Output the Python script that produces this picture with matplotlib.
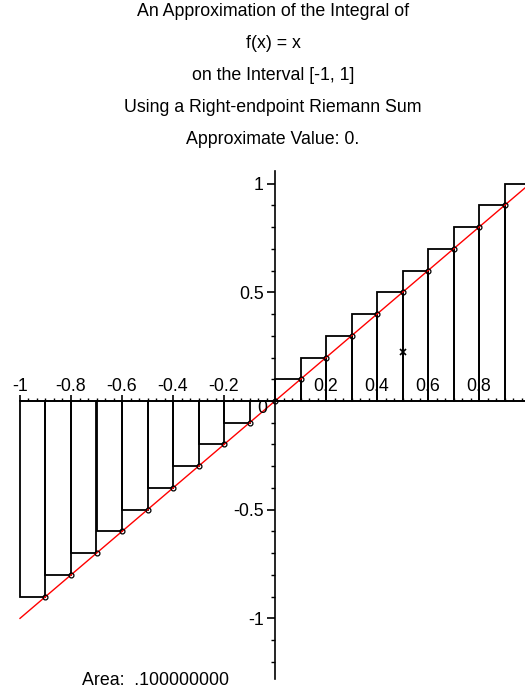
import matplotlib
matplotlib.use("Agg")
import matplotlib.pyplot as plt
from matplotlib.ticker import FixedLocator, FixedFormatter

plt.rcParams["font.family"] = ["Liberation Sans", "DejaVu Sans"]
plt.rcParams["axes.unicode_minus"] = False

# Partition of [-1, 1] into 20 subintervals
left_edges = [-1.0, -0.9, -0.8, -0.7, -0.6, -0.5, -0.4, -0.3, -0.2, -0.1,
              0.0, 0.1, 0.2, 0.3, 0.4, 0.5, 0.6, 0.7, 0.8, 0.9]
right_edges = [-0.9, -0.8, -0.7, -0.6, -0.5, -0.4, -0.3, -0.2, -0.1, 0.0,
               0.1, 0.2, 0.3, 0.4, 0.5, 0.6, 0.7, 0.8, 0.9, 1.0]
# f evaluated at the right endpoints, f(x) = x
heights = [-0.9, -0.8, -0.7, -0.6, -0.5, -0.4, -0.3, -0.2, -0.1, 0.0,
           0.1, 0.2, 0.3, 0.4, 0.5, 0.6, 0.7, 0.8, 0.9, 1.0]
bar_width = 0.1

# Curve f(x) = x
curve_x = [-1.0, 1.0]
curve_y = [-1.0, 1.0]

# Stray point marker
star_x = [0.5]
star_y = [0.225]

x_ticks = [-1.0, -0.8, -0.6, -0.4, -0.2, 0.2, 0.4, 0.6, 0.8]
x_tick_labels = ["-1", "-0.8", "-0.6", "-0.4", "-0.2", "0.2", "0.4", "0.6", "0.8"]
x_minor = [-1.0 + k / 30 for k in range(61)]
y_ticks = [-1.0, -0.5, 0.5, 1.0]
y_tick_labels = ["-1", "-0.5", "0.5", "1"]
y_minor = [-1.2 + k * 0.1 for k in range(23)]

title_lines = [
    "An Approximation of the Integral of",
    "f(x) = x",
    "on the Interval [-1, 1]",
    "Using a Right-endpoint Riemann Sum",
    "Approximate Value: 0.",
]
area_label = "Area:  .100000000"

W, H = 525, 692
fig = plt.figure(figsize=(W / 100, H / 100), dpi=100)
ax = fig.add_axes([0, 0, 1, 1])

# pixel mapping of the plot region
x0_px, x_unit = 275.0, 255.0
y0_px, y_unit = 401.0, 217.35
ax.set_xlim(-x0_px / x_unit, (W - x0_px) / x_unit)
ax.set_ylim(-(H - y0_px) / y_unit, y0_px / y_unit)

FS = 12.8

# Riemann rectangles
ax.bar(left_edges, heights, width=bar_width, align="edge", fill=False,
       edgecolor="black", linewidth=1.3, zorder=2)

# function graph
ax.plot(curve_x, curve_y, color="red", linewidth=1.0, zorder=3)

# sample points
ax.plot(right_edges, heights, linestyle="none", marker="o", markersize=3.5,
        markerfacecolor="none", markeredgecolor="black", markeredgewidth=0.9,
        zorder=4)
ax.plot(star_x, star_y, linestyle="none", marker="x", markersize=4.5,
        color="black", markeredgewidth=1.2, zorder=4)

# axes through the origin
for s in ["right", "bottom"]:
    ax.spines[s].set_visible(False)
ax.spines["top"].set_position(("data", 0))
ax.spines["left"].set_position(("data", 0))
ax.spines["top"].set_bounds(-1.0, 1.0)
ax.spines["left"].set_bounds(-1.28, 1.06)
for s in ["top", "left"]:
    ax.spines[s].set_linewidth(1.2)
    ax.spines[s].set_zorder(5)

ax.xaxis.set_ticks_position("top")
ax.yaxis.set_ticks_position("left")
ax.xaxis.set_major_locator(FixedLocator(x_ticks))
ax.xaxis.set_major_formatter(FixedFormatter(x_tick_labels))
ax.xaxis.set_minor_locator(FixedLocator(x_minor))
ax.yaxis.set_major_locator(FixedLocator(y_ticks))
ax.yaxis.set_major_formatter(FixedFormatter(y_tick_labels))
ax.yaxis.set_minor_locator(FixedLocator(y_minor))
ax.tick_params(axis="x", which="major", direction="out", length=4, width=1.2,
               pad=0, labelsize=FS)
ax.tick_params(axis="x", which="minor", direction="out", length=2, width=1.0)
ax.tick_params(axis="y", which="major", direction="out", length=6, width=1.2,
               pad=2, labelsize=FS)
ax.tick_params(axis="y", which="minor", direction="out", length=3, width=1.0)

# origin label
ax.text(-0.05, -0.035, "0", fontsize=FS, ha="center", va="center")

# area label
ax.text(-0.47, -1.285, area_label, fontsize=FS, ha="center", va="center")

# title block
for i, line in enumerate(title_lines):
    fig.text(273 / W, 1 - (12 + 32 * i) / H, line, fontsize=FS,
             ha="center", va="center")

fig.savefig("out.png", dpi=100)
